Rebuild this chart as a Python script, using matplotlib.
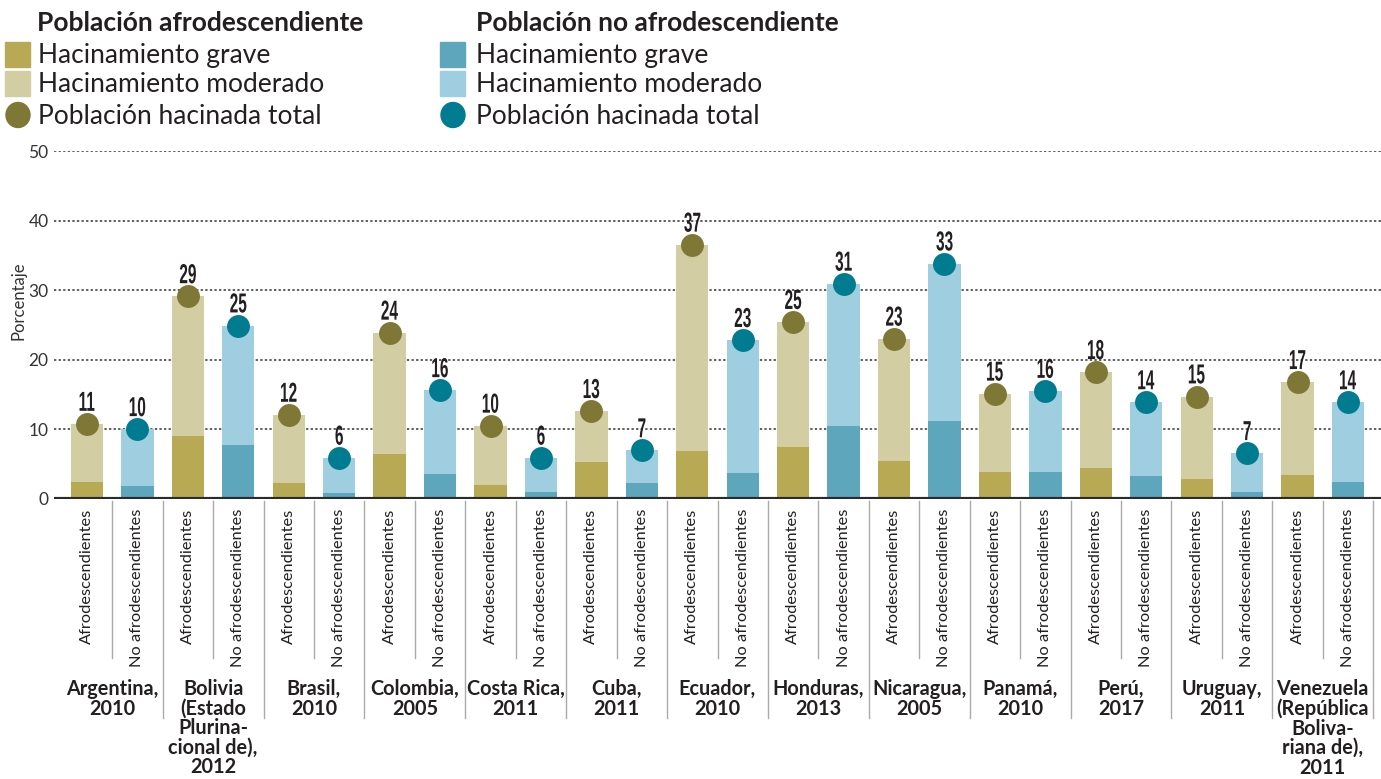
#!/usr/bin/env python3
import matplotlib
matplotlib.use("Agg")
import matplotlib.pyplot as plt
import matplotlib.patches as mpatches
from matplotlib.font_manager import FontProperties
from matplotlib.textpath import TextPath
from matplotlib.transforms import blended_transform_factory, Affine2D
import numpy as np

countries = ["Argentina,\n2010", "Bolivia\n(Estado\nPlurina-\ncional de),\n2012",
             "Brasil,\n2010", "Colombia,\n2005", "Costa Rica,\n2011", "Cuba,\n2011",
             "Ecuador,\n2010", "Honduras,\n2013", "Nicaragua,\n2005", "Panamá,\n2010",
             "Perú,\n2017", "Uruguay,\n2011",
             "Venezuela\n(República\nBoliva-\nriana de),\n2011"]
afro_total = [10.8, 29.1, 12.1, 23.9, 10.5, 12.6, 36.5, 25.4, 23.0, 15.1, 18.2, 14.7, 16.8]
afro_grave = [2.5, 9.1, 2.3, 6.5, 2.0, 5.3, 6.9, 7.5, 5.5, 3.9, 4.5, 2.9, 3.4]
no_total = [10.0, 24.9, 5.9, 15.6, 5.9, 7.0, 22.8, 30.9, 33.8, 15.5, 13.9, 6.6, 13.9]
no_grave = [1.9, 7.8, 0.9, 3.6, 1.05, 2.3, 3.8, 10.5, 11.2, 3.9, 3.3, 1.0, 2.4]
afro_labels = ["11", "29", "12", "24", "10", "13", "37", "25", "23", "15", "18", "15", "17"]
no_labels = ["10", "25", "6", "16", "6", "7", "23", "31", "33", "16", "14", "7", "14"]
groups = ["Afrodescendientes", "No afrodescendientes"]

C_AFRO_G = "#b8aa55"
C_AFRO_M = "#d3cda3"
C_AFRO_D = "#7f7736"
C_NO_G = "#5ea6bb"
C_NO_M = "#9ecee0"
C_NO_D = "#007b8f"
TXT = "#231f20"

plt.rcParams["font.family"] = ["Lato", "DejaVu Sans"]

W, H = 1381, 779
fig = plt.figure(figsize=(W / 100, H / 100), dpi=100)

def fx(px):
	return px / W

def fy(py):
	return 1 - py / H

SLOT = 50.44
X0 = 87
AX_L = 54
ax = fig.add_axes([fx(AX_L), fy(499), fx(W) - fx(AX_L), fy(151) - fy(499)])
n = len(countries)
xa = np.arange(n) * 2
xn = xa + 1
bw = 0.64

ax.bar(xa, afro_grave, bw, color=C_AFRO_G, zorder=2)
ax.bar(xa, np.array(afro_total) - np.array(afro_grave), bw, bottom=afro_grave, color=C_AFRO_M, zorder=2)
ax.bar(xn, no_grave, bw, color=C_NO_G, zorder=2)
ax.bar(xn, np.array(no_total) - np.array(no_grave), bw, bottom=no_grave, color=C_NO_M, zorder=2)

ax.plot(xa, afro_total, "o", ms=16.5, color=C_AFRO_D, mec="none", zorder=3, clip_on=False)
ax.plot(xn, no_total, "o", ms=16.5, color=C_NO_D, mec="none", zorder=3, clip_on=False)

ax.set_xlim((AX_L - X0) / SLOT, (W - X0) / SLOT)
ax.set_ylim(0, 50)
for v in range(10, 51, 10):
	ax.axhline(v, color="#333333", lw=1.1, ls=(0, (1.5, 1.5)), zorder=1)
ax.axhline(0, color="#2b2b2b", lw=3, zorder=4)
for s in ax.spines.values():
	s.set_visible(False)
ax.set_xticks([])
ax.set_yticks(range(0, 51, 10))
ax.tick_params(axis="y", length=0, pad=4, labelsize=12.5, labelcolor="#333333")
fig.text(fx(18), fy(301), "Porcentaje", rotation=90, ha="center", va="center",
	fontsize=12, color="#333333")

# condensed bold numbers above the dots
numfp = FontProperties(family="Liberation Sans", weight="bold")
def num_label(x, y, s):
	tp = TextPath((0, 0), s, size=27.5, prop=numfp)
	bb = tp.get_extents()
	px, py = ax.transData.transform((x, y))
	t = Affine2D().translate(-(bb.x0 + bb.x1) / 2, -bb.y0).scale(0.56, 1).translate(px, py + 13)
	fig.patches.append(mpatches.PathPatch(tp, transform=t, color=TXT, lw=0))

for x, y, s in zip(xa, afro_total, afro_labels):
	num_label(x, y, s)
for x, y, s in zip(xn, no_total, no_labels):
	num_label(x, y, s)

# labels and separators below the axis
tr = blended_transform_factory(ax.transData, fig.transFigure)
for g in range(n):
	ax.text(xa[g], fy(509), groups[0], rotation=90, ha="center", va="top", transform=tr,
		fontsize=11.8, color=TXT)
	ax.text(xn[g], fy(509), groups[1], rotation=90, ha="center", va="top", transform=tr,
		fontsize=11.8, color=TXT)
	ax.plot([xa[g] + 0.5, xa[g] + 0.5], [fy(501), fy(658)], transform=tr, color="#aaaaaa",
		lw=1, clip_on=False)
	ax.plot([xn[g] + 0.5, xn[g] + 0.5], [fy(501), fy(718)], transform=tr, color="#aaaaaa",
		lw=1, clip_on=False)
	ax.text(xa[g] + 0.5, fy(679), countries[g], ha="center", va="top", transform=tr,
		fontsize=14.3, fontweight="bold", color=TXT, linespacing=0.97)

# legend
fig.text(fx(37), fy(23), "Población afrodescendiente", fontsize=19, fontweight="bold",
	color=TXT, va="center")
fig.text(fx(476), fy(23), "Población no afrodescendiente", fontsize=19, fontweight="bold",
	color=TXT, va="center")
leg = [(5, 38, [C_AFRO_G, C_AFRO_M, C_AFRO_D]), (440, 476, [C_NO_G, C_NO_M, C_NO_D])]
items = ["Hacinamiento grave", "Hacinamiento moderado", "Población hacinada total"]
for sx, tx, cols in leg:
	for i, yy in enumerate([55, 84]):
		fig.patches.append(mpatches.Rectangle((fx(sx), fy(yy + 12)), fx(25), 25 / H,
			transform=fig.transFigure, color=cols[i]))
	fig.patches.append(mpatches.Ellipse((fx(sx + 13), fy(115)), fx(24), 25 / H,
		transform=fig.transFigure, color=cols[2]))
	for i, yy in enumerate([55, 84, 116]):
		fig.text(fx(tx), fy(yy), items[i], fontsize=19, color=TXT, va="center")

fig.savefig("out.png", dpi=100)
